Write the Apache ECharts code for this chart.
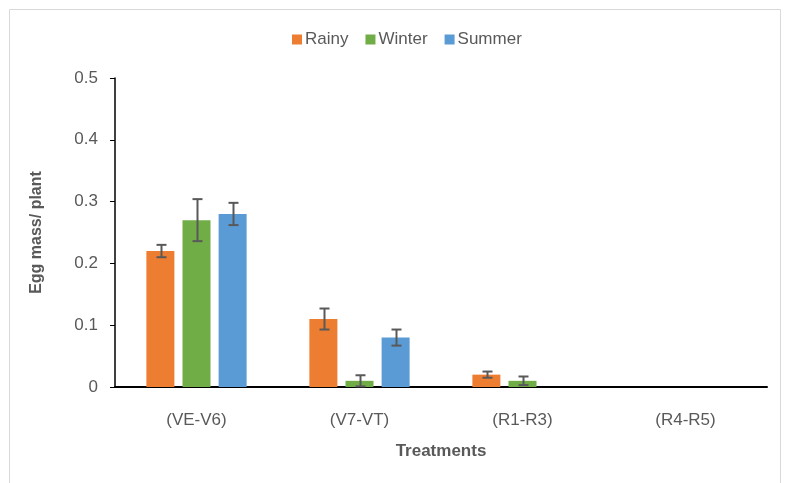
<!DOCTYPE html>
<html>
<head>
<meta charset="utf-8">
<script src="https://cdn.jsdelivr.net/npm/echarts@6/dist/echarts.min.js"></script>
<style>
html,body{margin:0;padding:0;background:#fff;}
#c{width:791px;height:483px;}
</style>
</head>
<body>
<div id="c"></div>
<script>
const categories = ['(VE-V6)', '(V7-VT)', '(R1-R3)', '(R4-R5)'];
const seriesNames = ['Rainy', 'Winter', 'Summer'];
const rainy = [0.22, 0.11, 0.02, 0];
const winter = [0.27, 0.01, 0.01, 0];
const summer = [0.28, 0.08, 0, 0];
const rainyErr = [0.01, 0.017, 0.005, 0];
const winterErr = [0.034, 0.009, 0.007, 0];
const summerErr = [0.018, 0.013, 0, 0];
const colors = ['#ED7D31', '#70AD47', '#5B9BD5'];
const yTicks = [0, 0.1, 0.2, 0.3, 0.4, 0.5];

const values = [rainy, winter, summer];
const errs = [rainyErr, winterErr, summerErr];
const font = 'Liberation Sans, Arial, sans-serif';

const chart = echarts.init(document.getElementById('c'));

const barSeries = seriesNames.map((n, i) => ({
  name: n,
  type: 'bar',
  data: values[i],
  itemStyle: { color: colors[i] },
  barWidth: 28,
  barGap: '29%',
  z: 2
}));

const errSeries = seriesNames.map((n, i) => ({
  name: n + ' err',
  type: 'custom',
  z: 5,
  data: values[i].map((v, k) => [k, v, errs[i][k]]),
  renderItem: function (params, api) {
    const k = api.value(0);
    const v = api.value(1);
    const e = api.value(2);
    if (e <= 0) return null;
    const bw = 28, gap = 8;
    const base = api.coord([k, v]);
    const offset = (i - 1) * (bw + gap);
    const x = base[0] + offset + 1;
    const top = api.coord([k, v + e])[1];
    const bot = api.coord([k, Math.max(0, v - e)])[1];
    const cap = 5;
    const st = { stroke: '#595959', lineWidth: 2 };
    return {
      type: 'group',
      children: [
        { type: 'line', shape: { x1: x, y1: top, x2: x, y2: bot }, style: st },
        { type: 'line', shape: { x1: x - cap, y1: top, x2: x + cap, y2: top }, style: st },
        { type: 'line', shape: { x1: x - cap, y1: bot, x2: x + cap, y2: bot }, style: st }
      ]
    };
  },
  silent: true
}));

chart.setOption({
  animation: false,
  backgroundColor: '#fff',
  graphic: [{
    type: 'rect',
    shape: { x: 9.5, y: 9.5, width: 771, height: 480 },
    style: { fill: 'none', stroke: '#D9D9D9', lineWidth: 1 },
    silent: true
  }],
  legend: {
    data: seriesNames,
    top: 26,
    left: 287,
    itemWidth: 10,
    itemHeight: 10,
    itemGap: 17,
    icon: 'rect',
    textStyle: { fontFamily: font, fontSize: 17, color: '#595959', padding: [0, 0, 0, -2] }
  },
  grid: { left: 115, right: 24, top: 78, bottom: 96, containLabel: false },
  xAxis: {
    type: 'category',
    data: categories,
    name: 'Treatments',
    nameLocation: 'middle',
    nameGap: 56,
    nameTextStyle: { fontFamily: font, fontSize: 17, fontWeight: 'bold', color: '#595959' },
    axisLine: { lineStyle: { color: '#000', width: 2 } },
    axisTick: { show: false },
    axisLabel: { fontFamily: font, fontSize: 17, color: '#595959', margin: 25 }
  },
  yAxis: {
    type: 'value',
    min: 0,
    max: 0.5,
    interval: 0.1,
    name: 'Egg mass/ plant',
    nameLocation: 'middle',
    nameGap: 70,
    nameTextStyle: { fontFamily: font, fontSize: 16, fontWeight: 'bold', color: '#595959' },
    axisLine: { show: true, lineStyle: { color: '#000', width: 1.5 } },
    axisTick: { show: true, length: 5, lineStyle: { color: '#000' } },
    splitLine: { show: false },
    axisLabel: {
      fontFamily: font, fontSize: 17, color: '#595959', margin: 17,
      formatter: function (v) {
        const t = yTicks.find(x => Math.abs(x - v) < 1e-9);
        return t === undefined ? '' : String(t);
      }
    }
  },
  series: barSeries.concat(errSeries)
});
</script>
</body>
</html>
